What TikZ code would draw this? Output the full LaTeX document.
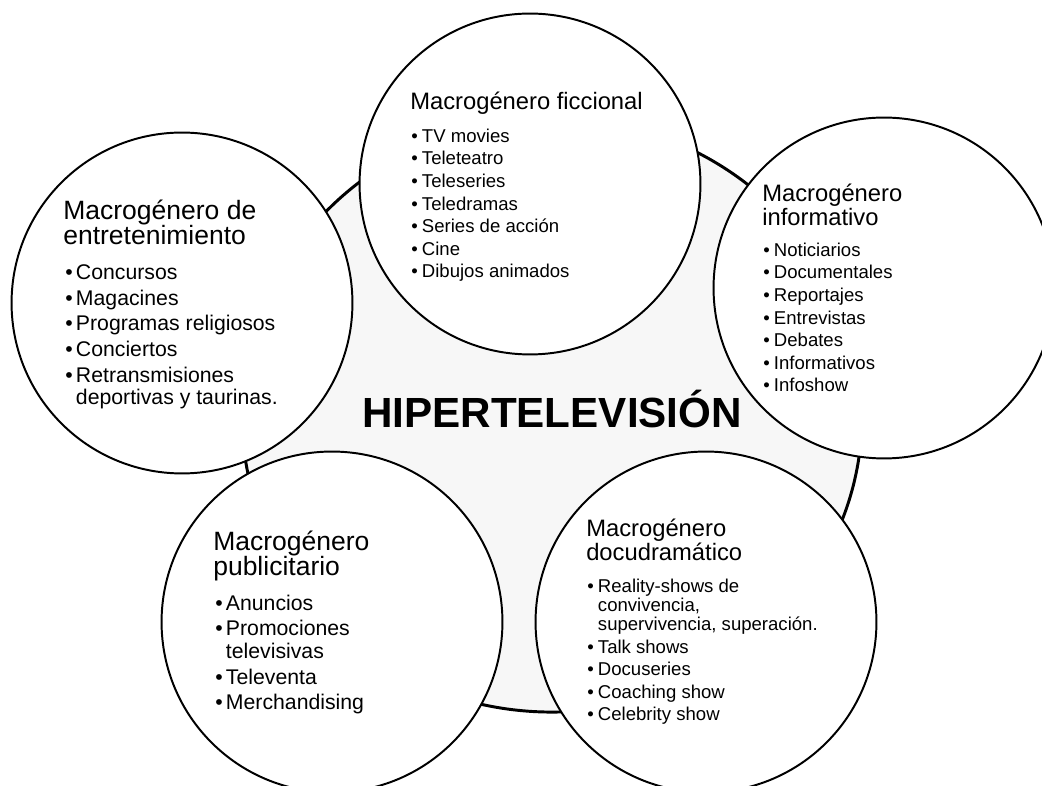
\documentclass[tikz,border=0pt]{standalone}
\usepackage{fontspec}
\setmainfont{Liberation Sans}
\usepackage{xcolor}
\usetikzlibrary{shapes.geometric}

\definecolor{hubfill}{RGB}{247,247,247}

% bullet item and continuation line
\newcommand{\itm}{\makebox[7.6pt][l]{•}}
\newcommand{\cnt}{\hspace*{7.6pt}}
\def\gapS{2.7pt}
\def\gapL{2.2pt}

\begin{document}
\begin{tikzpicture}[
    x=0.025cm, y=-0.025cm,
    hub/.style={ellipse, draw=black, line width=2.1pt, fill=hubfill,
        minimum width=15.5cm, minimum height=14.85cm, inner sep=0pt},
    hubname/.style={font=\fontsize{30}{30}\selectfont\bfseries, inner sep=0pt, anchor=base},
    genre/.style={circle, draw=black, line width=1.4pt, fill=white,
        minimum size=8.52cm, inner sep=0pt},
    headL/.style={font=\fontsize{18.85}{18.3}\selectfont, align=left, inner sep=0pt, anchor=base west},
    headS/.style={font=\fontsize{16.9}{17.6}\selectfont, align=left, inner sep=0pt, anchor=base west},
    listL/.style={font=\fontsize{15.1}{16.1}\selectfont, align=left, inner sep=0pt, anchor=base west},
    listS/.style={font=\fontsize{13.2}{13.4}\selectfont, align=left, inner sep=0pt, anchor=base west},
]

\useasboundingbox (0,0) rectangle (1042,786);

% Central hub
\node[hub] (hub) at (552,415) {};
\node[hubname] (hubtitle) at (552,428) {HIPERTELEVISIÓN};

% Genre circles
\foreach \n/\cx/\cy in {fic/530/184, ent/182/303, inf/884/288, pub/332/622, doc/706/622}
    \node[genre] (\n) at (\cx,\cy) {};

% Text blocks sit on the baseline of their last line
% Macrogénero ficcional
\node[headS] (fic-h) at (410,110) {Macrogénero ficcional};
\node[listS] (fic-l) at ([shift={(1,168)}]fic-h.base west)
    {\itm TV movies\\[\gapS]\itm Teleteatro\\[\gapS]\itm Teleseries\\[\gapS]%
     \itm Teledramas\\[\gapS]\itm Series de acción\\[\gapS]\itm Cine\\[\gapS]%
     \itm Dibujos animados};

% Macrogénero de entretenimiento
\node[headL] (ent-h) at (63,245) {Macrogénero de\\entretenimiento};
\node[listL] (ent-l) at ([shift={(2,160)}]ent-h.base west)
    {\itm Concursos\\[\gapL]\itm Magacines\\[\gapL]\itm Programas religiosos\\[\gapL]%
     \itm Conciertos\\[\gapL]\itm Retransmisiones\\\cnt deportivas y taurinas.};

% Macrogénero informativo
\node[headS] (inf-h) at (762,226) {Macrogénero\\informativo};
\node[listS] (inf-l) at ([shift={(1,166)}]inf-h.base west)
    {\itm Noticiarios\\[\gapS]\itm Documentales\\[\gapS]\itm Reportajes\\[\gapS]%
     \itm Entrevistas\\[\gapS]\itm Debates\\[\gapS]\itm Informativos\\[\gapS]%
     \itm Infoshow};

% Macrogénero publicitario
\node[headL] (pub-h) at (213,576) {Macrogénero\\publicitario};
\node[listL] (pub-l) at ([shift={(2,134)}]pub-h.base west)
    {\itm Anuncios\\[\gapL]\itm Promociones\\\cnt televisivas\\[\gapL]%
     \itm Televenta\\[\gapL]\itm Merchandising};

% Macrogénero docudramático
\node[headS] (doc-h) at (586,561) {Macrogénero\\docudramático};
\node[listS] (doc-l) at ([shift={(1,160)}]doc-h.base west)
    {\itm Reality-shows de\\\cnt convivencia,\\\cnt supervivencia, superación.\\[\gapS]%
     \itm Talk shows\\[\gapS]\itm Docuseries\\[\gapS]\itm Coaching show\\[\gapS]%
     \itm Celebrity show};

\end{tikzpicture}
\end{document}
